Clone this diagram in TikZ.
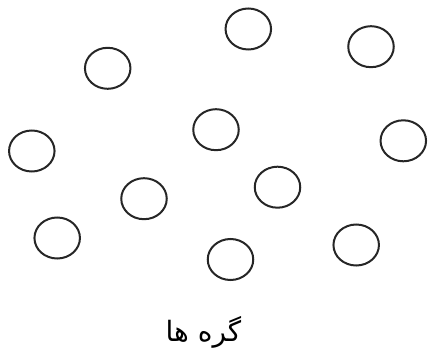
\documentclass[tikz,border=0pt]{standalone}
\usepackage{fontspec}
\newfontfamily\arabicfont[Script=Arabic]{DejaVu Sans}
\TeXXeTstate=1
\usepackage{tikz}
\usetikzlibrary{shapes.geometric}

\begin{document}
\begin{tikzpicture}[x=1pt, y=-1pt,
    knot/.style={draw=black!85, ellipse, line width=2pt, inner sep=0pt,
      minimum width=45.5pt, minimum height=41pt}]
  \useasboundingbox (0,0) rectangle (429,361);
  % --- the eleven knots ---
  \foreach \i/\x/\y in {
      1/107.7/68.3, 2/248.3/29.0, 3/371.0/46.7,
      4/31.8/151.0, 5/216.0/129.7, 6/403.3/140.8,
      7/144.0/198.7, 8/277.5/187.2,
      9/57.2/238.0, 10/230.5/259.5, 11/356.2/245.0}
    {\node[knot] (n\i) at (\x,\y) {};}
  % --- caption ---
  \node[font=\arabicfont\fontsize{28}{32}\selectfont] (caption) at (203.5,332)
    {\beginR گره ها\endR};
\end{tikzpicture}
\end{document}
